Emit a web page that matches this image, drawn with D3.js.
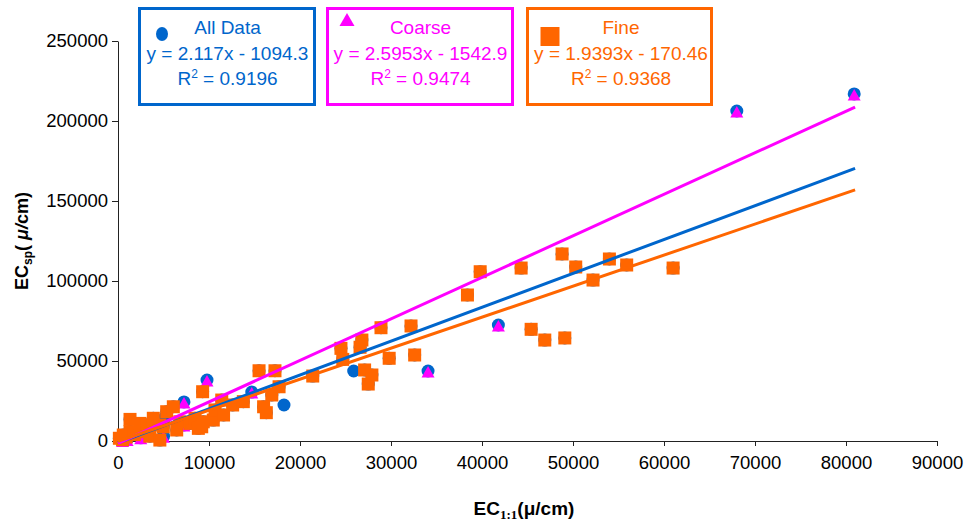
<!DOCTYPE html>
<html>
<head>
<meta charset="utf-8">
<script src="https://cdn.jsdelivr.net/npm/d3@7.9.0/dist/d3.min.js"></script>
<style>
  body { margin: 0; background: #fff; }
  svg { font-family: "Liberation Sans", Arial, sans-serif; }
</style>
</head>
<body>
<svg id="chart" width="966" height="524"></svg>
<script>
// data: [EC 1:1, EC sp]
const coarse = [
  [80900, 216900], [68000, 206250], [41800, 72500], [34070, 43750],
  [9780, 38100], [7250, 24400], [14700, 30600], [7250, 10000],
  [500, 300], [1000, 1000], [2500, 2000], [5000, 3000]
];
const fine = [
  [150, 1700], [500, 800], [580, 3750], [900, 2500], [1320, 5800], [1320, 13500],
  [1800, 4000], [2420, 5800], [2420, 11000], [3150, 6900], [3150, 10000], [3500, 3000],
  [3880, 14200], [4600, 10000], [4600, 600], [4980, 8900], [5350, 18300], [6080, 21400],
  [6450, 6900], [6800, 12000], [7900, 11000], [8460, 14200], [8830, 7900], [9200, 8900],
  [9300, 30800], [9370, 12000], [10470, 13100], [10660, 19400], [11400, 25600], [11600, 16250],
  [12600, 22500], [13770, 24600], [15500, 43900], [16000, 21400], [16300, 17700], [16900, 28750],
  [17250, 43900], [17700, 33900], [21400, 40600], [24500, 57900], [24700, 51000], [26600, 58600],
  [26800, 63100], [27100, 44400], [27500, 35600], [27900, 41250], [28900, 70800], [29800, 51700],
  [32200, 71900], [32600, 53750], [38400, 91250], [39800, 105800], [44300, 108100], [45400, 69800],
  [46900, 63100], [48800, 116900], [49100, 64400], [50300, 108750], [52200, 100600], [54000, 113750],
  [55900, 110000], [61000, 108100]
];
// points that only show as blue circles
const otherOnly = [[18240, 22500], [25900, 43750], [5100, 14300]];
const allData = coarse.concat(fine, otherOnly);

const seriesNames = ['All Data', 'Coarse', 'Fine'];
const slopes = [2.117, 2.5953, 1.9393];
const intercepts = [-1094.3, -1542.9, -170.46];
const r2Values = ['0.9196', '0.9474', '0.9368'];
const trendRange = [0, 81000];

const xTicks = [0, 10000, 20000, 30000, 40000, 50000, 60000, 70000, 80000, 90000];
const yTicks = [0, 50000, 100000, 150000, 200000, 250000];

const colors = ['#0066CC', '#FF00FF', '#FF6600'];

const svg = d3.select('#chart');
const x = d3.scaleLinear().domain([0, 90000]).range([118, 937]);
const y = d3.scaleLinear().domain([0, 250000]).range([441, 41]);

// axes
const xAxis = svg.append('g')
  .attr('transform', `translate(0,${y(0)})`)
  .call(d3.axisBottom(x).tickValues(xTicks).tickSize(5).tickSizeOuter(0).tickPadding(10).tickFormat(d3.format('d')));
const yAxis = svg.append('g')
  .attr('transform', `translate(${x(0)},0)`)
  .call(d3.axisLeft(y).tickValues(yTicks).tickSize(6).tickSizeOuter(0).tickPadding(4).tickFormat(d3.format('d')));

[xAxis, yAxis].forEach(g => {
  g.selectAll('path, line').attr('stroke', '#222');
  g.selectAll('text').attr('font-size', 18.5).attr('fill', '#000')
    .attr('font-family', '"Liberation Sans", Arial, sans-serif');
});

// markers
const trianglePath = 'M0,-5L6.5,6.5L-6.5,6.5Z';

svg.append('g').selectAll('circle')
  .data(allData).join('circle')
  .attr('cx', d => x(d[0])).attr('cy', d => y(d[1]))
  .attr('r', 6.5).attr('fill', colors[0]);

svg.append('g').selectAll('path')
  .data(coarse).join('path')
  .attr('transform', d => `translate(${x(d[0])},${y(d[1])})`)
  .attr('d', trianglePath).attr('fill', colors[1]);

svg.append('g').selectAll('rect')
  .data(fine).join('rect')
  .attr('x', d => x(d[0]) - 6.5).attr('y', d => y(d[1]) - 6.5)
  .attr('width', 13).attr('height', 13).attr('fill', colors[2]);

// trend lines
slopes.forEach((m, i) => {
  const line = d3.line().x(d => x(d)).y(d => y(m * d + intercepts[i]));
  svg.append('path')
    .attr('d', line(trendRange))
    .attr('fill', 'none').attr('stroke', colors[i]).attr('stroke-width', 3);
});

// legend boxes
const boxes = [[139.5, 314.5], [327.5, 512.5], [527.5, 711.5]];
const fmtEq = i => `y = ${slopes[i]}x - ${Math.abs(intercepts[i])}`;

boxes.forEach(([x0, x1], i) => {
  const g = svg.append('g');
  g.append('rect')
    .attr('x', x0).attr('y', 8.5).attr('width', x1 - x0).attr('height', 96)
    .attr('fill', '#fff').attr('stroke', colors[i]).attr('stroke-width', 3);
  const cx = i === 2 ? 621 : (x0 + x1) / 2 + 0.5;
  g.append('text').attr('x', cx).attr('y', 34).attr('text-anchor', 'middle')
    .attr('font-size', 19).attr('fill', colors[i]).text(seriesNames[i]);
  g.append('text').attr('x', cx).attr('y', 60).attr('text-anchor', 'middle')
    .attr('font-size', 19).attr('fill', colors[i]).text(fmtEq(i));
  const r2 = g.append('text').attr('x', cx).attr('y', 85).attr('text-anchor', 'middle')
    .attr('font-size', 19).attr('fill', colors[i]);
  r2.append('tspan').text('R');
  r2.append('tspan').attr('font-size', 12).attr('dy', -7).text('2');
  r2.append('tspan').attr('dy', 7).text(' = ' + r2Values[i]);
});

// legend markers
svg.append('ellipse').attr('cx', 162).attr('cy', 34).attr('rx', 6).attr('ry', 7).attr('fill', colors[0]);
svg.append('path').attr('d', 'M347,13L354.5,26L339.5,26Z').attr('fill', colors[1]);
svg.append('rect').attr('x', 540.5).attr('y', 27).attr('width', 19).attr('height', 19).attr('fill', colors[2]);

// axis titles
const yt = svg.append('text')
  .attr('transform', 'translate(28,241) rotate(-90)')
  .attr('text-anchor', 'middle').attr('font-weight', 'bold').attr('font-size', 18);
yt.append('tspan').text('EC');
yt.append('tspan').attr('font-size', 12).attr('dy', 4).text('sp');
yt.append('tspan').attr('dy', -4).text('(');
yt.append('tspan').attr('font-style', 'italic').text(' μ/');
yt.append('tspan').text('cm)');

const xt = svg.append('text')
  .attr('x', 524).attr('y', 515)
  .attr('text-anchor', 'middle').attr('font-weight', 'bold').attr('font-size', 19)
  .attr('font-family', '"Liberation Sans Narrow", "Liberation Sans", Arial, sans-serif');
xt.append('tspan').text('EC');
xt.append('tspan').attr('font-size', 13).attr('dy', 4)
  .attr('font-family', '"Liberation Serif", serif').text('1:1');
xt.append('tspan').attr('dy', -4).text('(μ/cm)');
</script>
</body>
</html>
